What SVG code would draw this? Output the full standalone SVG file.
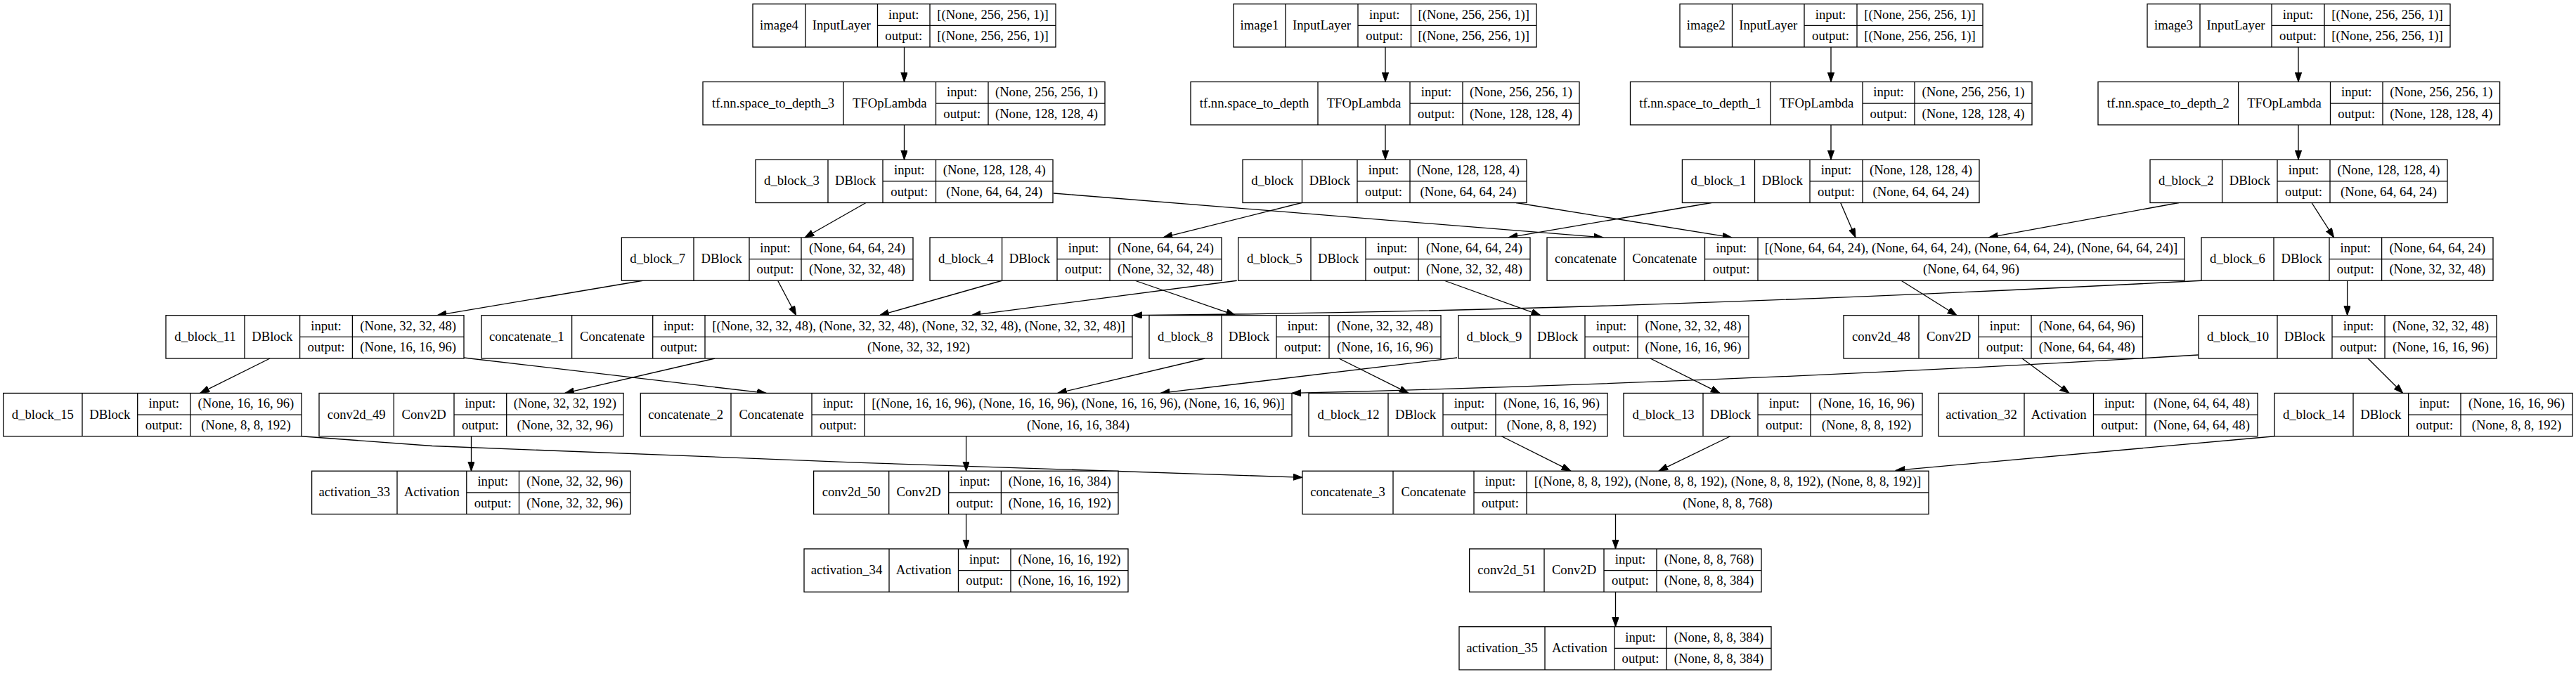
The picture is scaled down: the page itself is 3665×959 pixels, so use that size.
<svg xmlns="http://www.w3.org/2000/svg" width="3665" height="959" viewBox="0 0 3665 959">
<style>
.n rect{fill:#fff;stroke:#000;stroke-width:1.3}
.n path{fill:none;stroke:#000;stroke-width:1.3}
.n text{font-family:"Liberation Serif","Times New Roman",serif;font-size:18.67px;text-anchor:middle;fill:#000}
#edges path{fill:none;stroke:#000;stroke-width:1.3;marker-end:url(#ah)}
</style>
<defs>
<marker id="ah" markerWidth="14" markerHeight="10" refX="13.3" refY="4.67" orient="auto" markerUnits="userSpaceOnUse"><path d="M0,0L13.3,4.67L0,9.33z" fill="#000" stroke="#000" stroke-width="1"/></marker>
</defs>
<rect width="3665" height="959" fill="#fff"/>
<g id="edges">
<path d="M1286.5,67L1286.5,116.45"/>
<path d="M1286.5,177.75L1286.5,227.2"/>
<path d="M1971,67L1971,116.45"/>
<path d="M1971,177.75L1971,227.2"/>
<path d="M2605,67L2605,116.45"/>
<path d="M2605,177.75L2605,227.2"/>
<path d="M3270,67L3270,116.45"/>
<path d="M3270,177.75L3270,227.2"/>
<path d="M1232,288.5L1145,337.95"/>
<path d="M1499,275C1650,287 1900,307 2281,337.95"/>
<path d="M1852,288.5L1655,337.95"/>
<path d="M2157,288.5L2464,337.95"/>
<path d="M2618.7,288.5L2640,337.95"/>
<path d="M2435,288.5L2146,337.95"/>
<path d="M3100,288.5L2829.5,337.95"/>
<path d="M3289,288.5L3320.6,337.95"/>
<path d="M914.5,399.25L622,448.7"/>
<path d="M1106.6,399.25L1132.7,448.7"/>
<path d="M1425.6,399.25L1251.6,448.7"/>
<path d="M1615,399.25L1757.7,448.7"/>
<path d="M1759.7,399.25L1382,448.7"/>
<path d="M2055,399.25L2191.8,448.7"/>
<path d="M3132,399.25Q2300,443 1611.5,448.7"/>
<path d="M3339.6,399.25L3339.6,448.7"/>
<path d="M2705,399.25L2784,448.7"/>
<path d="M384,510L284.7,559.45"/>
<path d="M660,509L1090.4,559.45"/>
<path d="M1017,510L803.7,559.45"/>
<path d="M1714,510L1504.7,559.45"/>
<path d="M1905,510L2004,559.45"/>
<path d="M2073,509L1651,559.45"/>
<path d="M2348,510L2447,559.45"/>
<path d="M3127.6,505Q2500,543 1838,559.45"/>
<path d="M3369,510L3418.7,559.45"/>
<path d="M2877,510L2944,559.45"/>
<path d="M429,620.75L615,634.5L1225,658.3L1840,678.8L1853,679.3"/>
<path d="M670.5,620.75L670.5,670.2"/>
<path d="M1374.6,620.75L1374.6,670.2"/>
<path d="M2136.4,620.75L2235,670.2"/>
<path d="M2461.7,620.75L2360,670.2"/>
<path d="M3236,620.75L2697,669.3"/>
<path d="M1374.6,731.5L1374.6,780.95"/>
<path d="M2298.5,731.5L2298.5,780.95"/>
<path d="M2298.5,842.25L2298.5,891.7"/>
</g>

<g id="image4" class="n"><rect x="1071" y="5.7" width="431" height="61.3"/><path d="M1146,5.7V67M1248.5,5.7V67M1323,5.7V67M1248.5,36.35H1502"/><text x="1108.5" y="41.85">image4</text><text x="1197.25" y="41.85">InputLayer</text><text x="1285.75" y="26.5">input:</text><text x="1285.75" y="57.2">output:</text><text x="1412.5" y="26.5">[(None, 256, 256, 1)]</text><text x="1412.5" y="57.2">[(None, 256, 256, 1)]</text></g>
<g id="image1" class="n"><rect x="1755" y="5.7" width="431" height="61.3"/><path d="M1829,5.7V67M1932,5.7V67M2007.5,5.7V67M1932,36.35H2186"/><text x="1792" y="41.85">image1</text><text x="1880.5" y="41.85">InputLayer</text><text x="1969.75" y="26.5">input:</text><text x="1969.75" y="57.2">output:</text><text x="2096.75" y="26.5">[(None, 256, 256, 1)]</text><text x="2096.75" y="57.2">[(None, 256, 256, 1)]</text></g>
<g id="image2" class="n"><rect x="2390" y="5.7" width="431" height="61.3"/><path d="M2464.5,5.7V67M2567,5.7V67M2642,5.7V67M2567,36.35H2821"/><text x="2427.25" y="41.85">image2</text><text x="2515.75" y="41.85">InputLayer</text><text x="2604.5" y="26.5">input:</text><text x="2604.5" y="57.2">output:</text><text x="2731.5" y="26.5">[(None, 256, 256, 1)]</text><text x="2731.5" y="57.2">[(None, 256, 256, 1)]</text></g>
<g id="image3" class="n"><rect x="3055" y="5.7" width="431" height="61.3"/><path d="M3130,5.7V67M3232,5.7V67M3307,5.7V67M3232,36.35H3486"/><text x="3092.5" y="41.85">image3</text><text x="3181" y="41.85">InputLayer</text><text x="3269.5" y="26.5">input:</text><text x="3269.5" y="57.2">output:</text><text x="3396.5" y="26.5">[(None, 256, 256, 1)]</text><text x="3396.5" y="57.2">[(None, 256, 256, 1)]</text></g>

<g id="tf_nn_space_to_depth_3" class="n"><rect x="1000" y="116.45" width="572" height="61.3"/><path d="M1200,116.45V177.75M1331.5,116.45V177.75M1406,116.45V177.75M1331.5,147.1H1572"/><text x="1100" y="152.6">tf.nn.space_to_depth_3</text><text x="1265.75" y="152.6">TFOpLambda</text><text x="1368.75" y="137.25">input:</text><text x="1368.75" y="167.95">output:</text><text x="1489" y="137.25">(None, 256, 256, 1)</text><text x="1489" y="167.95">(None, 128, 128, 4)</text></g>
<g id="tf_nn_space_to_depth" class="n"><rect x="1694" y="116.45" width="553" height="61.3"/><path d="M1875,116.45V177.75M2006,116.45V177.75M2081,116.45V177.75M2006,147.1H2247"/><text x="1784.5" y="152.6">tf.nn.space_to_depth</text><text x="1940.5" y="152.6">TFOpLambda</text><text x="2043.5" y="137.25">input:</text><text x="2043.5" y="167.95">output:</text><text x="2164" y="137.25">(None, 256, 256, 1)</text><text x="2164" y="167.95">(None, 128, 128, 4)</text></g>
<g id="tf_nn_space_to_depth_1" class="n"><rect x="2319.5" y="116.45" width="571.5" height="61.3"/><path d="M2519,116.45V177.75M2650,116.45V177.75M2724,116.45V177.75M2650,147.1H2891"/><text x="2419.25" y="152.6">tf.nn.space_to_depth_1</text><text x="2584.5" y="152.6">TFOpLambda</text><text x="2687" y="137.25">input:</text><text x="2687" y="167.95">output:</text><text x="2807.5" y="137.25">(None, 256, 256, 1)</text><text x="2807.5" y="167.95">(None, 128, 128, 4)</text></g>
<g id="tf_nn_space_to_depth_2" class="n"><rect x="2985" y="116.45" width="571.6" height="61.3"/><path d="M3184.6,116.45V177.75M3315.5,116.45V177.75M3390,116.45V177.75M3315.5,147.1H3556.6"/><text x="3084.8" y="152.6">tf.nn.space_to_depth_2</text><text x="3250.05" y="152.6">TFOpLambda</text><text x="3352.75" y="137.25">input:</text><text x="3352.75" y="167.95">output:</text><text x="3473.3" y="137.25">(None, 256, 256, 1)</text><text x="3473.3" y="167.95">(None, 128, 128, 4)</text></g>

<g id="d_block_3" class="n"><rect x="1075" y="227.2" width="423" height="61.3"/><path d="M1178,227.2V288.5M1256,227.2V288.5M1331.5,227.2V288.5M1256,257.85H1498"/><text x="1126.5" y="263.35">d_block_3</text><text x="1217" y="263.35">DBlock</text><text x="1293.75" y="248">input:</text><text x="1293.75" y="278.7">output:</text><text x="1414.75" y="248">(None, 128, 128, 4)</text><text x="1414.75" y="278.7">(None, 64, 64, 24)</text></g>
<g id="d_block" class="n"><rect x="1768" y="227.2" width="404" height="61.3"/><path d="M1852.5,227.2V288.5M1931,227.2V288.5M2006,227.2V288.5M1931,257.85H2172"/><text x="1810.25" y="263.35">d_block</text><text x="1891.75" y="263.35">DBlock</text><text x="1968.5" y="248">input:</text><text x="1968.5" y="278.7">output:</text><text x="2089" y="248">(None, 128, 128, 4)</text><text x="2089" y="278.7">(None, 64, 64, 24)</text></g>
<g id="d_block_1" class="n"><rect x="2393.4" y="227.2" width="422.6" height="61.3"/><path d="M2496.5,227.2V288.5M2575,227.2V288.5M2650,227.2V288.5M2575,257.85H2816"/><text x="2444.95" y="263.35">d_block_1</text><text x="2535.75" y="263.35">DBlock</text><text x="2612.5" y="248">input:</text><text x="2612.5" y="278.7">output:</text><text x="2733" y="248">(None, 128, 128, 4)</text><text x="2733" y="278.7">(None, 64, 64, 24)</text></g>
<g id="d_block_2" class="n"><rect x="3059" y="227.2" width="423" height="61.3"/><path d="M3161.6,227.2V288.5M3240,227.2V288.5M3315,227.2V288.5M3240,257.85H3482"/><text x="3110.3" y="263.35">d_block_2</text><text x="3200.8" y="263.35">DBlock</text><text x="3277.5" y="248">input:</text><text x="3277.5" y="278.7">output:</text><text x="3398.5" y="248">(None, 128, 128, 4)</text><text x="3398.5" y="278.7">(None, 64, 64, 24)</text></g>

<g id="d_block_7" class="n"><rect x="884.4" y="337.95" width="414.6" height="61.3"/><path d="M987,337.95V399.25M1066,337.95V399.25M1140,337.95V399.25M1066,368.6H1299"/><text x="935.7" y="374.1">d_block_7</text><text x="1026.5" y="374.1">DBlock</text><text x="1103" y="358.75">input:</text><text x="1103" y="389.45">output:</text><text x="1219.5" y="358.75">(None, 64, 64, 24)</text><text x="1219.5" y="389.45">(None, 32, 32, 48)</text></g>
<g id="d_block_4" class="n"><rect x="1323" y="337.95" width="415" height="61.3"/><path d="M1425.6,337.95V399.25M1504,337.95V399.25M1579,337.95V399.25M1504,368.6H1738"/><text x="1374.3" y="374.1">d_block_4</text><text x="1464.8" y="374.1">DBlock</text><text x="1541.5" y="358.75">input:</text><text x="1541.5" y="389.45">output:</text><text x="1658.5" y="358.75">(None, 64, 64, 24)</text><text x="1658.5" y="389.45">(None, 32, 32, 48)</text></g>
<g id="d_block_5" class="n"><rect x="1761.7" y="337.95" width="415.3" height="61.3"/><path d="M1865,337.95V399.25M1943,337.95V399.25M2018,337.95V399.25M1943,368.6H2177"/><text x="1813.35" y="374.1">d_block_5</text><text x="1904" y="374.1">DBlock</text><text x="1980.5" y="358.75">input:</text><text x="1980.5" y="389.45">output:</text><text x="2097.5" y="358.75">(None, 64, 64, 24)</text><text x="2097.5" y="389.45">(None, 32, 32, 48)</text></g>
<g id="concatenate" class="n"><rect x="2201" y="337.95" width="907" height="61.3"/><path d="M2311,337.95V399.25M2425.5,337.95V399.25M2501,337.95V399.25M2425.5,368.6H3108"/><text x="2256" y="374.1">concatenate</text><text x="2368.25" y="374.1">Concatenate</text><text x="2463.25" y="358.75">input:</text><text x="2463.25" y="389.45">output:</text><text x="2804.5" y="358.75">[(None, 64, 64, 24), (None, 64, 64, 24), (None, 64, 64, 24), (None, 64, 64, 24)]</text><text x="2804.5" y="389.45">(None, 64, 64, 96)</text></g>
<g id="d_block_6" class="n"><rect x="3132" y="337.95" width="415" height="61.3"/><path d="M3235,337.95V399.25M3314,337.95V399.25M3388.6,337.95V399.25M3314,368.6H3547"/><text x="3183.5" y="374.1">d_block_6</text><text x="3274.5" y="374.1">DBlock</text><text x="3351.3" y="358.75">input:</text><text x="3351.3" y="389.45">output:</text><text x="3467.8" y="358.75">(None, 64, 64, 24)</text><text x="3467.8" y="389.45">(None, 32, 32, 48)</text></g>

<g id="d_block_11" class="n"><rect x="236" y="448.7" width="424" height="61.3"/><path d="M348,448.7V510M426.6,448.7V510M501.4,448.7V510M426.6,479.35H660"/><text x="292" y="484.85">d_block_11</text><text x="387.3" y="484.85">DBlock</text><text x="464" y="469.5">input:</text><text x="464" y="500.2">output:</text><text x="580.7" y="469.5">(None, 32, 32, 48)</text><text x="580.7" y="500.2">(None, 16, 16, 96)</text></g>
<g id="concatenate_1" class="n"><rect x="685" y="448.7" width="926" height="61.3"/><path d="M813.6,448.7V510M928.7,448.7V510M1003,448.7V510M928.7,479.35H1611"/><text x="749.3" y="484.85">concatenate_1</text><text x="871.15" y="484.85">Concatenate</text><text x="965.85" y="469.5">input:</text><text x="965.85" y="500.2">output:</text><text x="1307" y="469.5">[(None, 32, 32, 48), (None, 32, 32, 48), (None, 32, 32, 48), (None, 32, 32, 48)]</text><text x="1307" y="500.2">(None, 32, 32, 192)</text></g>
<g id="d_block_8" class="n"><rect x="1635" y="448.7" width="415" height="61.3"/><path d="M1738,448.7V510M1816,448.7V510M1891,448.7V510M1816,479.35H2050"/><text x="1686.5" y="484.85">d_block_8</text><text x="1777" y="484.85">DBlock</text><text x="1853.5" y="469.5">input:</text><text x="1853.5" y="500.2">output:</text><text x="1970.5" y="469.5">(None, 32, 32, 48)</text><text x="1970.5" y="500.2">(None, 16, 16, 96)</text></g>
<g id="d_block_9" class="n"><rect x="2075" y="448.7" width="413" height="61.3"/><path d="M2177,448.7V510M2255,448.7V510M2330,448.7V510M2255,479.35H2488"/><text x="2126" y="484.85">d_block_9</text><text x="2216" y="484.85">DBlock</text><text x="2292.5" y="469.5">input:</text><text x="2292.5" y="500.2">output:</text><text x="2409" y="469.5">(None, 32, 32, 48)</text><text x="2409" y="500.2">(None, 16, 16, 96)</text></g>
<g id="conv2d_48" class="n"><rect x="2623" y="448.7" width="425.5" height="61.3"/><path d="M2730,448.7V510M2815,448.7V510M2890,448.7V510M2815,479.35H3048.5"/><text x="2676.5" y="484.85">conv2d_48</text><text x="2772.5" y="484.85">Conv2D</text><text x="2852.5" y="469.5">input:</text><text x="2852.5" y="500.2">output:</text><text x="2969.25" y="469.5">(None, 64, 64, 96)</text><text x="2969.25" y="500.2">(None, 64, 64, 48)</text></g>
<g id="d_block_10" class="n"><rect x="3128" y="448.7" width="424" height="61.3"/><path d="M3240,448.7V510M3318,448.7V510M3393,448.7V510M3318,479.35H3552"/><text x="3184" y="484.85">d_block_10</text><text x="3279" y="484.85">DBlock</text><text x="3355.5" y="469.5">input:</text><text x="3355.5" y="500.2">output:</text><text x="3472.5" y="469.5">(None, 32, 32, 48)</text><text x="3472.5" y="500.2">(None, 16, 16, 96)</text></g>

<g id="d_block_15" class="n"><rect x="4.7" y="559.45" width="424.3" height="61.3"/><path d="M117,559.45V620.75M195.7,559.45V620.75M270.8,559.45V620.75M195.7,590.1H429"/><text x="60.85" y="595.6">d_block_15</text><text x="156.35" y="595.6">DBlock</text><text x="233.25" y="580.25">input:</text><text x="233.25" y="610.95">output:</text><text x="349.9" y="580.25">(None, 16, 16, 96)</text><text x="349.9" y="610.95">(None, 8, 8, 192)</text></g>
<g id="conv2d_49" class="n"><rect x="454" y="559.45" width="433" height="61.3"/><path d="M560.3,559.45V620.75M646,559.45V620.75M720.7,559.45V620.75M646,590.1H887"/><text x="507.15" y="595.6">conv2d_49</text><text x="603.15" y="595.6">Conv2D</text><text x="683.35" y="580.25">input:</text><text x="683.35" y="610.95">output:</text><text x="803.85" y="580.25">(None, 32, 32, 192)</text><text x="803.85" y="610.95">(None, 32, 32, 96)</text></g>
<g id="concatenate_2" class="n"><rect x="911.3" y="559.45" width="926.7" height="61.3"/><path d="M1040,559.45V620.75M1155,559.45V620.75M1230,559.45V620.75M1155,590.1H1838"/><text x="975.65" y="595.6">concatenate_2</text><text x="1097.5" y="595.6">Concatenate</text><text x="1192.5" y="580.25">input:</text><text x="1192.5" y="610.95">output:</text><text x="1534" y="580.25">[(None, 16, 16, 96), (None, 16, 16, 96), (None, 16, 16, 96), (None, 16, 16, 96)]</text><text x="1534" y="610.95">(None, 16, 16, 384)</text></g>
<g id="d_block_12" class="n"><rect x="1862" y="559.45" width="425" height="61.3"/><path d="M1975,559.45V620.75M2053,559.45V620.75M2128,559.45V620.75M2053,590.1H2287"/><text x="1918.5" y="595.6">d_block_12</text><text x="2014" y="595.6">DBlock</text><text x="2090.5" y="580.25">input:</text><text x="2090.5" y="610.95">output:</text><text x="2207.5" y="580.25">(None, 16, 16, 96)</text><text x="2207.5" y="610.95">(None, 8, 8, 192)</text></g>
<g id="d_block_13" class="n"><rect x="2310" y="559.45" width="425" height="61.3"/><path d="M2423,559.45V620.75M2501,559.45V620.75M2576,559.45V620.75M2501,590.1H2735"/><text x="2366.5" y="595.6">d_block_13</text><text x="2462" y="595.6">DBlock</text><text x="2538.5" y="580.25">input:</text><text x="2538.5" y="610.95">output:</text><text x="2655.5" y="580.25">(None, 16, 16, 96)</text><text x="2655.5" y="610.95">(None, 8, 8, 192)</text></g>
<g id="activation_32" class="n"><rect x="2758" y="559.45" width="454" height="61.3"/><path d="M2880,559.45V620.75M2978.5,559.45V620.75M3053,559.45V620.75M2978.5,590.1H3212"/><text x="2819" y="595.6">activation_32</text><text x="2929.25" y="595.6">Activation</text><text x="3015.75" y="580.25">input:</text><text x="3015.75" y="610.95">output:</text><text x="3132.5" y="580.25">(None, 64, 64, 48)</text><text x="3132.5" y="610.95">(None, 64, 64, 48)</text></g>
<g id="d_block_14" class="n"><rect x="3236" y="559.45" width="424" height="61.3"/><path d="M3348,559.45V620.75M3426.6,559.45V620.75M3501,559.45V620.75M3426.6,590.1H3660"/><text x="3292" y="595.6">d_block_14</text><text x="3387.3" y="595.6">DBlock</text><text x="3463.8" y="580.25">input:</text><text x="3463.8" y="610.95">output:</text><text x="3580.5" y="580.25">(None, 16, 16, 96)</text><text x="3580.5" y="610.95">(None, 8, 8, 192)</text></g>

<g id="activation_33" class="n"><rect x="443.6" y="670.2" width="453.4" height="61.3"/><path d="M565,670.2V731.5M663.8,670.2V731.5M738.5,670.2V731.5M663.8,700.85H897"/><text x="504.3" y="706.35">activation_33</text><text x="614.4" y="706.35">Activation</text><text x="701.15" y="691">input:</text><text x="701.15" y="721.7">output:</text><text x="817.75" y="691">(None, 32, 32, 96)</text><text x="817.75" y="721.7">(None, 32, 32, 96)</text></g>
<g id="conv2d_50" class="n"><rect x="1157.6" y="670.2" width="433.4" height="61.3"/><path d="M1264.7,670.2V731.5M1349.7,670.2V731.5M1424.4,670.2V731.5M1349.7,700.85H1591"/><text x="1211.15" y="706.35">conv2d_50</text><text x="1307.2" y="706.35">Conv2D</text><text x="1387.05" y="691">input:</text><text x="1387.05" y="721.7">output:</text><text x="1507.7" y="691">(None, 16, 16, 384)</text><text x="1507.7" y="721.7">(None, 16, 16, 192)</text></g>
<g id="concatenate_3" class="n"><rect x="1853" y="670.2" width="891" height="61.3"/><path d="M1982,670.2V731.5M2097,670.2V731.5M2172,670.2V731.5M2097,700.85H2744"/><text x="1917.5" y="706.35">concatenate_3</text><text x="2039.5" y="706.35">Concatenate</text><text x="2134.5" y="691">input:</text><text x="2134.5" y="721.7">output:</text><text x="2458" y="691">[(None, 8, 8, 192), (None, 8, 8, 192), (None, 8, 8, 192), (None, 8, 8, 192)]</text><text x="2458" y="721.7">(None, 8, 8, 768)</text></g>

<g id="activation_34" class="n"><rect x="1144" y="780.95" width="461" height="61.3"/><path d="M1265,780.95V842.25M1363.5,780.95V842.25M1438,780.95V842.25M1363.5,811.6H1605"/><text x="1204.5" y="817.1">activation_34</text><text x="1314.25" y="817.1">Activation</text><text x="1400.75" y="801.75">input:</text><text x="1400.75" y="832.45">output:</text><text x="1521.5" y="801.75">(None, 16, 16, 192)</text><text x="1521.5" y="832.45">(None, 16, 16, 192)</text></g>
<g id="conv2d_51" class="n"><rect x="2090.6" y="780.95" width="415.4" height="61.3"/><path d="M2197,780.95V842.25M2282,780.95V842.25M2357,780.95V842.25M2282,811.6H2506"/><text x="2143.8" y="817.1">conv2d_51</text><text x="2239.5" y="817.1">Conv2D</text><text x="2319.5" y="801.75">input:</text><text x="2319.5" y="832.45">output:</text><text x="2431.5" y="801.75">(None, 8, 8, 768)</text><text x="2431.5" y="832.45">(None, 8, 8, 384)</text></g>

<g id="activation_35" class="n"><rect x="2076" y="891.7" width="444" height="61.3"/><path d="M2198,891.7V953M2297,891.7V953M2371,891.7V953M2297,922.35H2520"/><text x="2137" y="927.85">activation_35</text><text x="2247.5" y="927.85">Activation</text><text x="2334" y="912.5">input:</text><text x="2334" y="943.2">output:</text><text x="2445.5" y="912.5">(None, 8, 8, 384)</text><text x="2445.5" y="943.2">(None, 8, 8, 384)</text></g>
</svg>
